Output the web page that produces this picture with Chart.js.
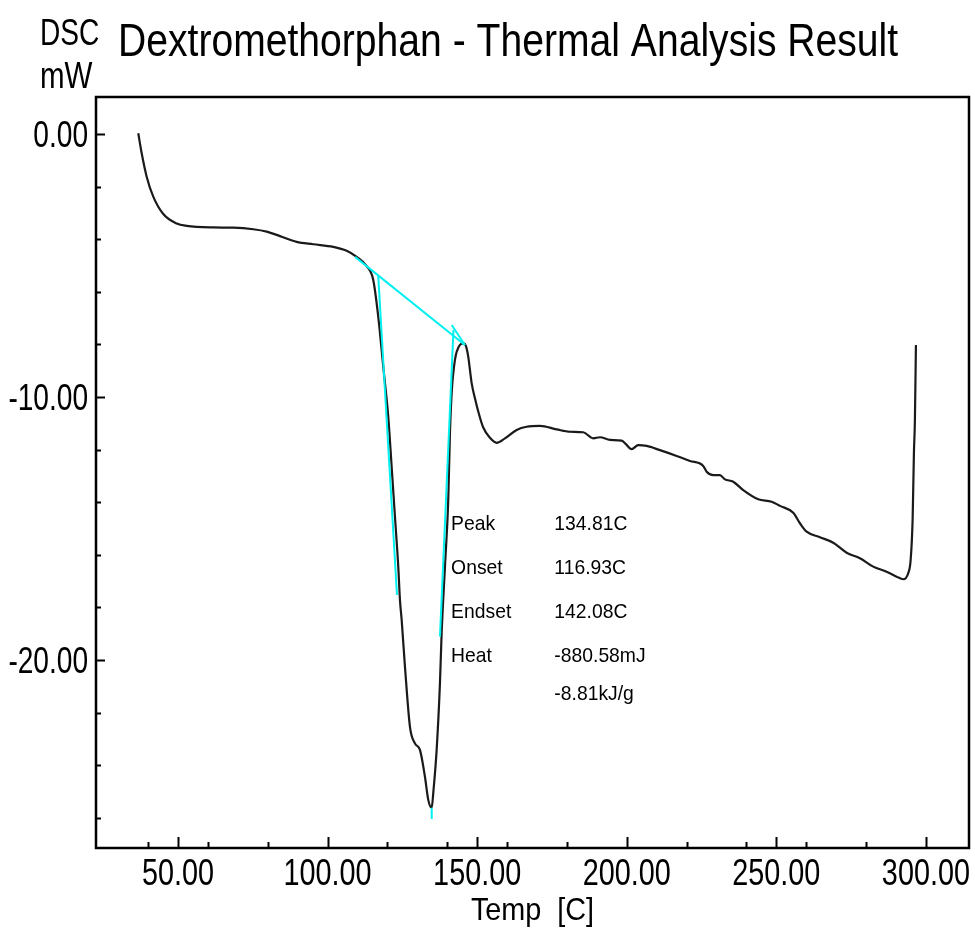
<!DOCTYPE html>
<html>
<head>
<meta charset="utf-8">
<title>Dextromethorphan - Thermal Analysis Result</title>
<script src="https://cdn.jsdelivr.net/npm/chart.js@4.4.1/dist/chart.umd.min.js"></script>
<style>
  html, body { margin: 0; padding: 0; background: #fff; }
  canvas { display: block; }
</style>
</head>
<body>
<canvas id="dsc" width="975" height="938"></canvas>
<script>
// DSC heating trace: temperature (C) against heat flow (mW)
const tempC = [
  36.73, 37.87, 39.54, 41.74, 45.09, 49.57, 52.91, 61.80, 68.48,
  75.17, 79.65, 84.09, 89.67, 95.22, 101.91, 106.38, 109.73, 113.07, 115.27,
  116.95, 118.62, 120.29, 121.42, 122.53, 123.63, 124.20, 124.77, 125.87, 127.54,
  129.21, 130.88, 132.55, 133.66, 134.81, 135.33, 136.46, 137.57, 138.13, 139.24,
  140.34, 140.91, 141.48, 142.58, 144.25, 145.35, 146.26, 147.03, 148.16, 149.26,
  150.37, 152.00, 154.28, 156.52, 159.29, 163.20, 166.54, 170.99, 176.57, 181.02,
  185.46, 188.80, 191.04, 194.39, 198.30, 199.70, 201.64, 203.84, 206.65, 211.10,
  216.68, 221.12, 225.57, 226.71, 228.92, 231.15, 232.82, 235.60, 238.94, 243.95,
  248.43, 251.20, 255.65, 257.89, 260.13, 264.57, 269.02, 273.50, 277.94, 282.39,
  286.86, 290.20, 292.41, 294.08, 294.89, 295.55, 295.99, 296.32, 296.66
];
const heatFlow = [
  0.03, -0.73, -1.62, -2.38, -3.04, -3.40, -3.49, -3.55, -3.56,
  -3.62, -3.71, -3.88, -4.10, -4.19, -4.29, -4.44, -4.67, -5.02, -5.55,
  -6.95, -8.85, -10.75, -12.65, -14.55, -16.45, -17.72, -18.48, -20.25, -22.54,
  -23.17, -23.42, -24.44, -25.32, -25.62, -25.06, -23.42, -20.87, -18.97, -16.45,
  -13.92, -11.37, -9.85, -8.59, -8.02, -7.96, -8.06, -8.47, -9.47, -10.05,
  -10.55, -11.15, -11.55, -11.74, -11.57, -11.25, -11.13, -11.10, -11.23, -11.32,
  -11.34, -11.57, -11.53, -11.63, -11.66, -11.79, -11.98, -11.83, -11.86, -12.02,
  -12.24, -12.43, -12.62, -12.84, -12.97, -12.97, -13.13, -13.22, -13.54, -13.89,
  -13.98, -14.14, -14.40, -14.80, -15.12, -15.33, -15.54, -15.92, -16.13, -16.45,
  -16.64, -16.83, -16.93, -16.70, -16.20, -14.68, -12.13, -10.87, -8.02
];

// Peak analysis construction lines (C, mW)
const baselineT = [109.20, 145.90];
const baselineMW = [-4.67, -8.02];
const arrowBarbT = [141.50, 145.90];
const arrowBarbMW = [-7.26, -8.02];
const onsetTangentT = [116.93, 123.20];
const onsetTangentMW = [-5.38, -17.53];
const endsetTangentT = [142.08, 137.57];
const endsetTangentMW = [-7.45, -19.11];
const peakMarkT = [134.81, 134.81];
const peakMarkMW = [-25.62, -26.05];

// Axis ticks
const xLabelTicks = [50, 100, 150, 200, 250, 300];
const xMinorTicks = [40, 60, 80, 120, 140, 160, 180, 220, 240, 260, 280];
const yLabelTicks = [0, -10, -20];
const yMinorTicks = [-2, -4, -6, -8, -12, -14, -16, -18, -22, -24, -26];

// Peak analysis results
const resultNames = ['Peak', 'Onset', 'Endset', 'Heat', ''];
const resultValues = ['134.81C', '116.93C', '142.08C', '-880.58mJ', '-8.81kJ/g'];

const pts = (xs, ys) => xs.map((v, i) => ({ x: v, y: ys[i] }));
const fmt = v => Number(v).toFixed(2);
const CYAN = '#00f0f0';
const SANS = '"Liberation Sans", Arial, sans-serif';

// Text with horizontal compression (condensed instrument-report lettering)
function squeezedText(ctx, text, x, y, size, sx, align) {
  ctx.save();
  ctx.font = size + 'px ' + SANS;
  ctx.textBaseline = 'alphabetic';
  ctx.textAlign = 'left';
  const w = ctx.measureText(text).width * sx;
  let left = x;
  if (align === 'right') left = x - w;
  else if (align === 'center') left = x - w / 2;
  ctx.translate(left, y);
  ctx.scale(sx, 1);
  ctx.fillText(text, 0, 0);
  ctx.restore();
}

const frameAndNotes = {
  id: 'frameAndNotes',
  afterDatasetsDraw(chart) {
    const { ctx, chartArea: a, scales: { x, y } } = chart;
    ctx.save();
    ctx.strokeStyle = '#000';
    ctx.fillStyle = '#000';

    // inward tick marks
    ctx.lineWidth = 2;
    ctx.beginPath();
    const xTick = (v, len) => {
      const px = Math.round(x.getPixelForValue(v)) + 0.5;
      ctx.moveTo(px, a.bottom); ctx.lineTo(px, a.bottom - len);
    };
    const yTick = (v, len) => {
      const py = Math.round(y.getPixelForValue(v)) + 0.5;
      ctx.moveTo(a.left, py); ctx.lineTo(a.left + len, py);
    };
    xLabelTicks.forEach(v => xTick(v, 11));
    xMinorTicks.forEach(v => xTick(v, 6));
    yLabelTicks.forEach(v => yTick(v, 9));
    yMinorTicks.forEach(v => yTick(v, 5));
    ctx.stroke();

    // plot frame
    ctx.lineWidth = 2.5;
    ctx.strokeRect(a.left, a.top, a.right - a.left, a.bottom - a.top);

    // tick labels from the scales' own ticks
    x.ticks.forEach((t, i) => {
      squeezedText(ctx, fmt(t.value), x.getPixelForTick(i), a.bottom + 37, 36, 0.8, 'center');
    });
    y.ticks.forEach((t, i) => {
      squeezedText(ctx, fmt(t.value), a.left - 8, y.getPixelForTick(i) + 13, 36, 0.78, 'right');
    });

    // axis title
    squeezedText(ctx, 'Temp  [C]', (a.left + a.right) / 2, 920, 32, 0.9, 'center');

    // results block
    const nameX = x.getPixelForValue(141.3);
    const valueX = x.getPixelForValue(175.8);
    const rowY = [530, 574, 618, 662, 700];
    resultNames.forEach((t, i) => { if (t) squeezedText(ctx, t, nameX, rowY[i], 21, 0.92); });
    resultValues.forEach((t, i) => squeezedText(ctx, t, valueX, rowY[i], 21, 0.92));
    ctx.restore();
  },
  afterDraw(chart) {
    const { ctx } = chart;
    ctx.save();
    ctx.fillStyle = '#000';
    squeezedText(ctx, 'DSC', 40, 45, 36, 0.78);
    squeezedText(ctx, 'mW', 40, 88, 36, 0.82);
    squeezedText(ctx, 'Dextromethorphan - Thermal Analysis Result', 118, 56, 46, 0.85);
    ctx.restore();
  }
};

const cyanLine = (label, xs, ys) => ({
  label, data: pts(xs, ys), showLine: true, borderColor: CYAN, borderWidth: 2,
  pointRadius: 0, tension: 0, order: 1
});

new Chart(document.getElementById('dsc'), {
  type: 'scatter',
  data: {
    datasets: [
      cyanLine('Baseline', baselineT, baselineMW),
      cyanLine('Baseline arrow', arrowBarbT, arrowBarbMW),
      cyanLine('Onset tangent', onsetTangentT, onsetTangentMW),
      cyanLine('Endset tangent', endsetTangentT, endsetTangentMW),
      cyanLine('Peak', peakMarkT, peakMarkMW),
      {
        label: 'DSC', data: pts(tempC, heatFlow), showLine: true,
        borderColor: '#1a1a1a', borderWidth: 2.2, pointRadius: 0,
        cubicInterpolationMode: 'monotone', order: 2
      }
    ]
  },
  options: {
    responsive: false,
    animation: false,
    devicePixelRatio: 1,
    layout: { padding: { top: 97, right: 6, left: 0, bottom: 0 } },
    plugins: { legend: { display: false }, tooltip: { enabled: false }, title: { display: false } },
    scales: {
      x: {
        type: 'linear', position: 'bottom', min: 22.6, max: 314.4,
        afterBuildTicks: s => { s.ticks = xLabelTicks.map(v => ({ value: v })); },
        afterFit: s => { s.height = 90; s.paddingLeft = 0; s.paddingRight = 0; },
        grid: { display: false, drawTicks: false },
        border: { display: false },
        ticks: { display: false, callback: fmt }
      },
      y: {
        type: 'linear', position: 'left', min: -27.15, max: 1.41,
        afterBuildTicks: s => { s.ticks = yLabelTicks.map(v => ({ value: v })); },
        afterFit: s => { s.width = 96; s.paddingTop = 0; s.paddingBottom = 0; },
        grid: { display: false, drawTicks: false },
        border: { display: false },
        ticks: { display: false, callback: fmt }
      }
    }
  },
  plugins: [frameAndNotes]
});
</script>
</body>
</html>
